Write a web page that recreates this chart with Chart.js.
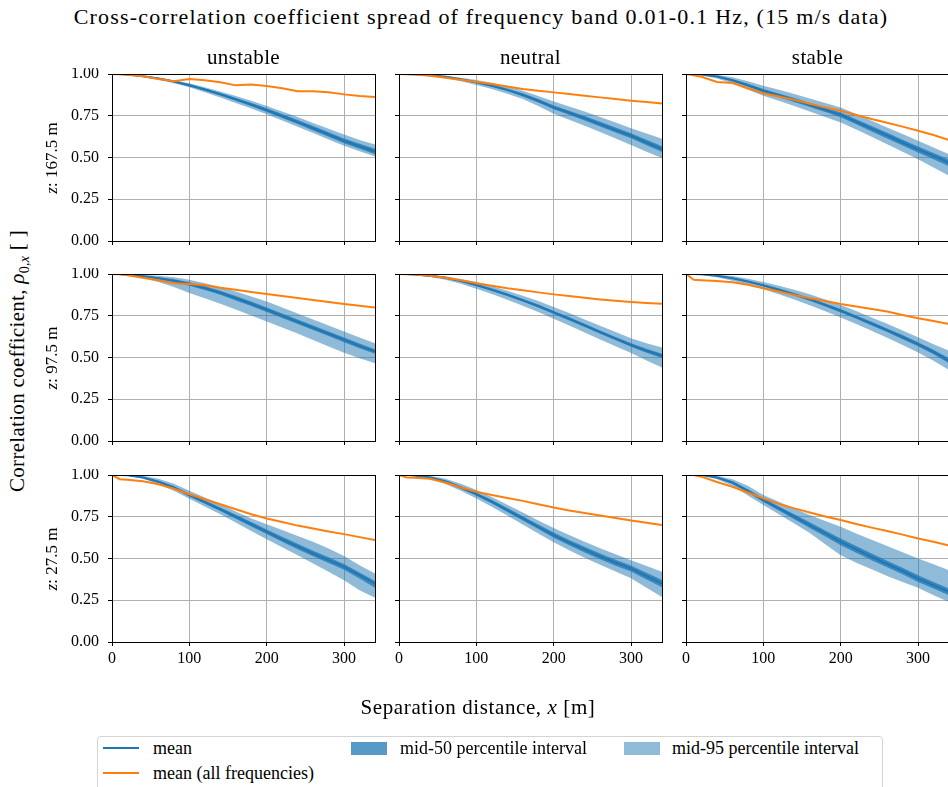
<!DOCTYPE html>
<html>
<head>
<meta charset="utf-8">
<script src="https://cdn.jsdelivr.net/npm/chart.js@4.4.1/dist/chart.umd.min.js"></script>
<style>
  body { margin: 0; width: 948px; height: 787px; overflow: hidden; background: #fff; position: relative;
         font-family: "Liberation Serif", serif; color: #000; }
  .txt { position: absolute; white-space: nowrap; transform: translate(-50%, -50%); }
  .rot { transform: translate(-50%, -50%) rotate(-90deg); }
  canvas { position: absolute; }
  #legend { position: absolute; left: 97px; top: 736px; width: 784px; height: 70px;
            border: 1px solid #d4d4d4; border-radius: 4px; background: #fff; }
  .lg { position: absolute; }
  .lgt { position: absolute; font-size: 18px; white-space: nowrap; transform: translateY(-50%); }
</style>
</head>
<body>
<script>
// separation distance (m)
const xs = [0, 10, 20, 40, 60, 80, 100, 120, 140, 160, 180, 200, 220, 240, 260, 280, 300, 320, 340];
const xTicks = [0, 100, 200, 300];
const yTicks = [0, 0.25, 0.5, 0.75, 1];
const stabilities = ["unstable", "neutral", "stable"];
const heights = ["167.5", "97.5", "27.5"];

// one row per panel: 167.5 (unstable, neutral, stable), 97.5 (...), 27.5 (...)
const meanVals = [
  [1.000, 1.000, 0.997, 0.987, 0.973, 0.955, 0.933, 0.907, 0.879, 0.849, 0.817, 0.784, 0.748, 0.712, 0.675, 0.638, 0.600, 0.567, 0.536],
  [1.000, 1.000, 0.998, 0.993, 0.983, 0.968, 0.950, 0.930, 0.905, 0.875, 0.840, 0.800, 0.768, 0.735, 0.700, 0.665, 0.630, 0.590, 0.550],
  [1.000, 1.000, 0.997, 0.985, 0.963, 0.933, 0.900, 0.872, 0.844, 0.815, 0.785, 0.755, 0.714, 0.673, 0.632, 0.590, 0.549, 0.510, 0.470],
  [1.000, 1.000, 0.996, 0.987, 0.975, 0.960, 0.940, 0.915, 0.888, 0.855, 0.822, 0.786, 0.750, 0.714, 0.678, 0.642, 0.606, 0.570, 0.536],
  [1.000, 1.000, 0.997, 0.990, 0.978, 0.958, 0.934, 0.906, 0.876, 0.843, 0.808, 0.770, 0.732, 0.692, 0.652, 0.613, 0.575, 0.540, 0.510],
  [1.000, 1.000, 0.998, 0.990, 0.975, 0.955, 0.932, 0.906, 0.878, 0.848, 0.815, 0.780, 0.742, 0.703, 0.663, 0.622, 0.580, 0.533, 0.480],
  [1.000, 1.000, 0.998, 0.985, 0.960, 0.925, 0.880, 0.838, 0.795, 0.750, 0.705, 0.660, 0.615, 0.572, 0.530, 0.490, 0.450, 0.400, 0.350],
  [1.000, 1.000, 0.997, 0.985, 0.962, 0.925, 0.885, 0.840, 0.790, 0.740, 0.690, 0.640, 0.595, 0.553, 0.513, 0.475, 0.440, 0.395, 0.350],
  [1.000, 1.000, 1.000, 0.985, 0.955, 0.905, 0.850, 0.800, 0.750, 0.700, 0.650, 0.600, 0.555, 0.510, 0.467, 0.425, 0.380, 0.340, 0.300]
];
const p975Vals = [
  [1, 1, 0.999, 0.991, 0.979, 0.963, 0.944, 0.921, 0.895, 0.868, 0.840, 0.808, 0.775, 0.742, 0.707, 0.672, 0.637, 0.605, 0.578],
  [1, 1, 1, 0.997, 0.990, 0.978, 0.964, 0.947, 0.925, 0.900, 0.869, 0.835, 0.805, 0.775, 0.743, 0.710, 0.675, 0.643, 0.613],
  [1, 1, 1, 0.995, 0.980, 0.957, 0.930, 0.905, 0.880, 0.853, 0.826, 0.800, 0.760, 0.720, 0.680, 0.640, 0.600, 0.560, 0.520],
  [1, 1, 1, 0.996, 0.990, 0.980, 0.966, 0.945, 0.922, 0.895, 0.866, 0.836, 0.800, 0.764, 0.728, 0.692, 0.656, 0.620, 0.586],
  [1, 1, 1, 0.995, 0.986, 0.970, 0.952, 0.928, 0.900, 0.870, 0.838, 0.803, 0.767, 0.728, 0.690, 0.652, 0.615, 0.585, 0.560],
  [1, 1, 1, 0.997, 0.988, 0.972, 0.952, 0.930, 0.905, 0.878, 0.848, 0.815, 0.778, 0.740, 0.702, 0.662, 0.622, 0.580, 0.540],
  [1, 1, 1, 0.995, 0.978, 0.948, 0.905, 0.865, 0.825, 0.782, 0.740, 0.705, 0.670, 0.635, 0.600, 0.560, 0.515, 0.460, 0.410],
  [1, 1, 1, 0.995, 0.978, 0.948, 0.910, 0.868, 0.822, 0.775, 0.728, 0.682, 0.640, 0.600, 0.562, 0.525, 0.490, 0.455, 0.420],
  [1, 1, 1, 0.995, 0.975, 0.935, 0.880, 0.840, 0.800, 0.760, 0.725, 0.690, 0.650, 0.612, 0.575, 0.538, 0.500, 0.465, 0.430]
];
const p025Vals = [
  [1, 0.999, 0.994, 0.982, 0.966, 0.945, 0.920, 0.891, 0.860, 0.827, 0.793, 0.759, 0.721, 0.684, 0.646, 0.608, 0.570, 0.537, 0.506],
  [1, 0.999, 0.996, 0.988, 0.975, 0.956, 0.934, 0.910, 0.882, 0.850, 0.808, 0.762, 0.726, 0.690, 0.652, 0.614, 0.575, 0.535, 0.497],
  [1, 0.999, 0.993, 0.973, 0.945, 0.905, 0.870, 0.840, 0.808, 0.775, 0.742, 0.710, 0.668, 0.625, 0.580, 0.535, 0.490, 0.440, 0.390],
  [1, 0.999, 0.992, 0.975, 0.952, 0.922, 0.886, 0.855, 0.822, 0.787, 0.752, 0.716, 0.680, 0.643, 0.605, 0.566, 0.528, 0.495, 0.466],
  [1, 0.999, 0.993, 0.982, 0.966, 0.942, 0.912, 0.880, 0.846, 0.810, 0.772, 0.732, 0.692, 0.650, 0.608, 0.567, 0.527, 0.482, 0.440],
  [1, 0.999, 0.994, 0.981, 0.960, 0.935, 0.908, 0.879, 0.847, 0.813, 0.777, 0.740, 0.700, 0.660, 0.618, 0.575, 0.530, 0.480, 0.425],
  [1, 1, 0.996, 0.977, 0.945, 0.905, 0.858, 0.812, 0.765, 0.715, 0.665, 0.615, 0.567, 0.520, 0.470, 0.420, 0.370, 0.310, 0.265],
  [1, 1, 0.994, 0.975, 0.946, 0.905, 0.860, 0.810, 0.757, 0.703, 0.650, 0.598, 0.550, 0.505, 0.462, 0.422, 0.382, 0.325, 0.270],
  [1, 1, 0.997, 0.975, 0.935, 0.877, 0.820, 0.765, 0.710, 0.652, 0.585, 0.520, 0.475, 0.435, 0.395, 0.360, 0.325, 0.280, 0.240]
];
const p75Vals = [
  [1, 1, 0.998, 0.989, 0.976, 0.959, 0.938, 0.913, 0.886, 0.857, 0.827, 0.795, 0.760, 0.724, 0.688, 0.651, 0.614, 0.582, 0.552],
  [1, 1, 0.999, 0.995, 0.986, 0.972, 0.955, 0.936, 0.912, 0.884, 0.850, 0.811, 0.780, 0.748, 0.714, 0.680, 0.645, 0.606, 0.567],
  [1, 1, 0.999, 0.989, 0.969, 0.941, 0.910, 0.883, 0.856, 0.827, 0.798, 0.769, 0.729, 0.688, 0.648, 0.607, 0.566, 0.527, 0.488],
  [1, 1, 0.998, 0.991, 0.981, 0.968, 0.950, 0.926, 0.900, 0.868, 0.836, 0.800, 0.764, 0.728, 0.692, 0.656, 0.620, 0.584, 0.550],
  [1, 1, 0.999, 0.992, 0.981, 0.962, 0.940, 0.913, 0.883, 0.851, 0.817, 0.779, 0.741, 0.702, 0.662, 0.623, 0.586, 0.552, 0.523],
  [1, 1, 0.999, 0.993, 0.979, 0.960, 0.938, 0.913, 0.886, 0.856, 0.824, 0.790, 0.752, 0.714, 0.674, 0.634, 0.592, 0.547, 0.496],
  [1, 1, 0.999, 0.989, 0.966, 0.933, 0.889, 0.848, 0.806, 0.762, 0.718, 0.674, 0.630, 0.588, 0.547, 0.507, 0.467, 0.416, 0.365],
  [1, 1, 0.999, 0.989, 0.968, 0.933, 0.894, 0.851, 0.802, 0.753, 0.704, 0.655, 0.611, 0.570, 0.530, 0.493, 0.458, 0.415, 0.372],
  [1, 1, 1, 0.989, 0.962, 0.915, 0.861, 0.812, 0.765, 0.717, 0.668, 0.620, 0.575, 0.530, 0.487, 0.445, 0.400, 0.360, 0.320]
];
const p25Vals = [
  [1, 1, 0.996, 0.985, 0.970, 0.951, 0.927, 0.900, 0.871, 0.840, 0.807, 0.773, 0.736, 0.700, 0.662, 0.625, 0.586, 0.552, 0.520],
  [1, 1, 0.997, 0.991, 0.980, 0.964, 0.945, 0.924, 0.898, 0.866, 0.830, 0.789, 0.756, 0.722, 0.686, 0.650, 0.615, 0.574, 0.533],
  [1, 1, 0.996, 0.981, 0.957, 0.925, 0.890, 0.861, 0.832, 0.802, 0.772, 0.741, 0.699, 0.656, 0.614, 0.572, 0.530, 0.490, 0.448],
  [1, 1, 0.994, 0.983, 0.969, 0.952, 0.930, 0.904, 0.876, 0.842, 0.808, 0.772, 0.736, 0.700, 0.664, 0.628, 0.592, 0.556, 0.522],
  [1, 1, 0.995, 0.988, 0.975, 0.954, 0.928, 0.899, 0.869, 0.835, 0.799, 0.761, 0.722, 0.682, 0.642, 0.603, 0.564, 0.528, 0.497],
  [1, 1, 0.997, 0.987, 0.971, 0.950, 0.926, 0.899, 0.870, 0.840, 0.806, 0.770, 0.732, 0.692, 0.652, 0.610, 0.567, 0.519, 0.465],
  [1, 1, 0.997, 0.981, 0.954, 0.917, 0.871, 0.828, 0.784, 0.738, 0.692, 0.646, 0.600, 0.556, 0.513, 0.473, 0.433, 0.380, 0.325],
  [1, 1, 0.996, 0.981, 0.956, 0.917, 0.876, 0.829, 0.778, 0.727, 0.676, 0.625, 0.579, 0.536, 0.496, 0.457, 0.422, 0.375, 0.328],
  [1, 1, 0.999, 0.981, 0.948, 0.895, 0.839, 0.788, 0.735, 0.683, 0.632, 0.580, 0.535, 0.490, 0.447, 0.405, 0.360, 0.320, 0.280]
];
// mean over all frequencies
const meanAllVals = [
  [1, 0.999, 0.996, 0.986, 0.970, 0.957, 0.970, 0.962, 0.951, 0.932, 0.937, 0.928, 0.915, 0.897, 0.897, 0.890, 0.878, 0.868, 0.862],
  [1, 0.999, 0.997, 0.990, 0.978, 0.965, 0.952, 0.940, 0.925, 0.910, 0.900, 0.890, 0.880, 0.870, 0.860, 0.850, 0.840, 0.832, 0.824],
  [1, 0.992, 0.983, 0.952, 0.946, 0.915, 0.885, 0.865, 0.845, 0.822, 0.800, 0.780, 0.755, 0.730, 0.708, 0.685, 0.660, 0.635, 0.605],
  [1, 0.998, 0.993, 0.977, 0.962, 0.945, 0.940, 0.932, 0.918, 0.905, 0.892, 0.880, 0.868, 0.856, 0.844, 0.832, 0.820, 0.810, 0.800],
  [1, 0.999, 0.997, 0.990, 0.978, 0.962, 0.945, 0.930, 0.915, 0.903, 0.890, 0.878, 0.868, 0.858, 0.848, 0.840, 0.833, 0.827, 0.822],
  [1, 0.965, 0.963, 0.958, 0.950, 0.935, 0.915, 0.895, 0.875, 0.855, 0.838, 0.820, 0.805, 0.790, 0.775, 0.755, 0.735, 0.718, 0.700],
  [1, 0.975, 0.972, 0.963, 0.945, 0.918, 0.885, 0.855, 0.825, 0.795, 0.765, 0.740, 0.718, 0.697, 0.680, 0.662, 0.646, 0.628, 0.610],
  [1, 0.985, 0.984, 0.977, 0.955, 0.925, 0.900, 0.880, 0.862, 0.845, 0.825, 0.805, 0.788, 0.772, 0.757, 0.742, 0.728, 0.714, 0.700],
  [1, 1, 0.990, 0.958, 0.930, 0.895, 0.860, 0.827, 0.800, 0.775, 0.752, 0.730, 0.707, 0.685, 0.665, 0.643, 0.620, 0.600, 0.578]
];

const BLUE = "#1f77b4";
const ORANGE = "#ff7f0e";
const MID50 = "rgba(31, 119, 180, 0.75)";
const MID95 = "rgba(31, 119, 180, 0.5)";
const FONT = "Liberation Serif";

// plot area geometry
const colLeft = [112, 399, 686];
const rowTop = [74, 274, 475];
const W = 263, H = 167;
const AX_W = 60, AX_H = 30, PAD_T = 6, PAD_R = 6;

function addText(html, x, y, size, rotate, spacing) {
  const d = document.createElement("div");
  d.className = "txt" + (rotate ? " rot" : "");
  d.style.left = x + "px";
  d.style.top = y + "px";
  d.style.fontSize = size + "px";
  if (spacing) d.style.letterSpacing = spacing + "px";
  d.innerHTML = html;
  document.body.appendChild(d);
}

function pts(arr) {
  return arr.map((y, k) => ({ x: xs[k], y: y }));
}

// top and right spines
const framePlugin = {
  id: "frame",
  afterDraw(chart) {
    const a = chart.chartArea;
    const ctx = chart.ctx;
    ctx.save();
    ctx.strokeStyle = "#000";
    ctx.lineWidth = 1;
    ctx.strokeRect(Math.round(a.left) + 0.5, Math.round(a.top) + 0.5,
                   Math.round(a.right - a.left), Math.round(a.bottom - a.top));
    ctx.restore();
  }
};

function makePanel(row, col) {
  const i = row * 3 + col;
  const cv = document.createElement("canvas");
  cv.width = AX_W + W + PAD_R;
  cv.height = PAD_T + H + AX_H;
  cv.style.left = (colLeft[col] - AX_W) + "px";
  cv.style.top = (rowTop[row] - PAD_T) + "px";
  document.body.appendChild(cv);

  const band = { borderColor: "rgba(0,0,0,0)", borderWidth: 0, pointRadius: 0 };

  new Chart(cv.getContext("2d"), {
    type: "line",
    data: {
      datasets: [
        { label: "mean (all frequencies)", data: pts(meanAllVals[i]), borderColor: ORANGE, borderWidth: 2, pointRadius: 0, fill: false },
        { label: "mean", data: pts(meanVals[i]), borderColor: BLUE, borderWidth: 2, pointRadius: 0, fill: false },
        Object.assign({ label: "mid-50 upper", data: pts(p75Vals[i]), backgroundColor: MID50, fill: 3 }, band),
        Object.assign({ label: "mid-50 lower", data: pts(p25Vals[i]), fill: false }, band),
        Object.assign({ label: "mid-95 upper", data: pts(p975Vals[i]), backgroundColor: MID95, fill: 5 }, band),
        Object.assign({ label: "mid-95 lower", data: pts(p025Vals[i]), fill: false }, band)
      ]
    },
    options: {
      animation: false,
      responsive: false,
      events: [],
      layout: { padding: { top: PAD_T, right: PAD_R, left: 0, bottom: 0 } },
      plugins: { legend: { display: false }, tooltip: { enabled: false } },
      scales: {
        x: {
          type: "linear", min: 0, max: 340,
          afterBuildTicks: s => { s.ticks = xTicks.map(v => ({ value: v })); },
          afterFit: s => { s.height = AX_H; s.paddingLeft = 0; s.paddingRight = 0; },
          grid: { color: "#b0b0b0", lineWidth: 1, tickLength: 4, tickColor: "#000" },
          border: { display: false },
          ticks: { font: { family: FONT, size: 16 }, color: "#000", padding: 3, maxRotation: 0,
                   callback: v => (row === 2 ? String(v) : "") }
        },
        y: {
          type: "linear", min: 0, max: 1,
          afterBuildTicks: s => { s.ticks = yTicks.map(v => ({ value: v })); },
          afterFit: s => { s.width = AX_W; s.paddingTop = 0; s.paddingBottom = 0; },
          grid: { color: "#b0b0b0", lineWidth: 1, tickLength: 4, tickColor: "#000" },
          border: { display: false },
          ticks: { font: { family: FONT, size: 16 }, color: "#000", padding: 9,
                   callback: v => (col === 0 ? v.toFixed(2) : "") }
        }
      }
    },
    plugins: [framePlugin]
  });
}

for (let r = 0; r < 3; r++) {
  for (let c = 0; c < 3; c++) makePanel(r, c);
}

// titles and labels
addText("Cross-correlation coefficient spread of frequency band 0.01-0.1 Hz, (15 m/s data)", 481, 17, 22, false, 1.2);
stabilities.forEach((s, c) => addText(s, colLeft[c] + W / 2, 57, 21, false, 0.4));
heights.forEach((h, r) => addText("<i>z</i>: " + h + " m", 52, rowTop[r] + H / 2, 17, true));
addText("Correlation coefficient, <i>&rho;</i><sub style='font-size:14px'>0,<i>x</i></sub> [ ]", 19, 361, 21, true, 0.3);
addText("Separation distance, <i>x</i> [m]", 478, 707, 21, false, 0.6);

// legend
const lg = document.createElement("div");
lg.id = "legend";
lg.innerHTML =
  "<div class='lg' style='left:5px;top:10px;width:36px;height:2px;background:" + BLUE + "'></div>" +
  "<div class='lgt' style='left:55px;top:11px'>mean</div>" +
  "<div class='lg' style='left:5px;top:35px;width:36px;height:2px;background:" + ORANGE + "'></div>" +
  "<div class='lgt' style='left:55px;top:36px'>mean (all frequencies)</div>" +
  "<div class='lg' style='left:253px;top:5px;width:36px;height:13px;background:" + MID50 + "'></div>" +
  "<div class='lgt' style='left:302px;top:11px'>mid-50 percentile interval</div>" +
  "<div class='lg' style='left:526px;top:5px;width:36px;height:13px;background:" + MID95 + "'></div>" +
  "<div class='lgt' style='left:574px;top:11px'>mid-95 percentile interval</div>";
document.body.appendChild(lg);
</script>
</body>
</html>
